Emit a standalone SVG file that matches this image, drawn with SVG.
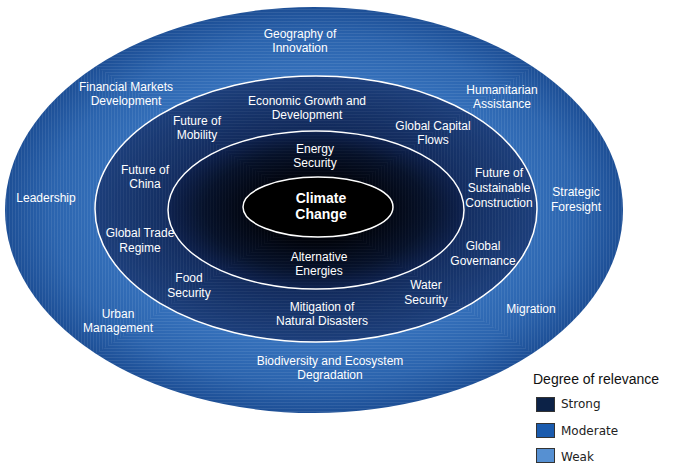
<svg xmlns="http://www.w3.org/2000/svg" width="673" height="467" viewBox="0 0 673 467">
<defs>
<style>
.lbl{font-family:"Liberation Sans",Arial,sans-serif;font-size:12px;fill:#ffffff;text-anchor:middle}
.core{font-family:"Liberation Sans",Arial,sans-serif;font-size:14px;font-weight:bold;fill:#ffffff;text-anchor:middle}
.ring{stroke:#ffffff;stroke-width:1.5}
.leg{font-family:"DejaVu Sans",Verdana,sans-serif;font-size:12px;fill:#222222}
.legt{font-family:"Liberation Sans",Arial,sans-serif;font-size:14px;fill:#111111}
.sw{stroke:#333333;stroke-width:1}
</style>
<radialGradient id="gOuter" cx="0.5" cy="0.5" r="0.5">
<stop offset="0.55" stop-color="#3a77c2"/>
<stop offset="0.85" stop-color="#2b64ae"/>
<stop offset="1" stop-color="#1d4f96"/>
</radialGradient>
<radialGradient id="gMid" cx="0.5" cy="0.5" r="0.5">
<stop offset="0.55" stop-color="#112858"/>
<stop offset="0.85" stop-color="#193870"/>
<stop offset="1" stop-color="#1d3f7b"/>
</radialGradient>
<radialGradient id="gInner" cx="0.5" cy="0.5" r="0.5">
<stop offset="0.4" stop-color="#02050d"/>
<stop offset="0.75" stop-color="#07122a"/>
<stop offset="1" stop-color="#0f2350"/>
</radialGradient>
<pattern id="pH" width="4" height="3" patternUnits="userSpaceOnUse">
<rect x="0" y="0" width="4" height="1" fill="#ffffff" fill-opacity="0.08"/>
</pattern>
<pattern id="pV" width="3" height="4" patternUnits="userSpaceOnUse">
<rect x="0" y="0" width="1" height="4" fill="#ffffff" fill-opacity="0.08"/>
</pattern>
<clipPath id="cOuter"><ellipse cx="314" cy="210" rx="309" ry="203"/></clipPath>
<clipPath id="cMid"><ellipse cx="316" cy="209" rx="221" ry="133"/></clipPath>
<clipPath id="cInner"><ellipse cx="316" cy="210" rx="148" ry="79"/></clipPath>
<g id="texture">
<polygon points="5,7 623,7 316,210 623,413 5,413 316,210" fill="url(#pH)"/>
<polygon points="5,7 316,210 5,413" fill="url(#pV)"/>
<polygon points="623,7 316,210 623,413" fill="url(#pV)"/>
</g>
</defs>
<rect width="673" height="467" fill="#ffffff"/>

<g id="ring-weak">
<ellipse cx="314" cy="210" rx="309" ry="203" fill="url(#gOuter)"/>
<use href="#texture" clip-path="url(#cOuter)"/>
</g>
<g id="ring-moderate">
<ellipse cx="316" cy="209" rx="221" ry="133" fill="url(#gMid)"/>
<use href="#texture" clip-path="url(#cMid)" opacity="0.6"/>
<ellipse cx="316" cy="209" rx="221" ry="133" fill="none" class="ring"/>
</g>
<g id="ring-strong">
<ellipse cx="316" cy="210" rx="148" ry="79" fill="url(#gInner)"/>
<use href="#texture" clip-path="url(#cInner)" opacity="0.35"/>
<ellipse cx="316" cy="210" rx="148" ry="79" fill="none" class="ring"/>
</g>
<g id="climate-change">
<ellipse cx="318" cy="207" rx="75" ry="30" fill="#000000" class="ring"/>
<text class="core" x="321" y="203">Climate</text>
<text class="core" x="321" y="219">Change</text>
</g>

<g id="geography-of-innovation"><text class="lbl" x="300" y="38">Geography of</text><text class="lbl" x="300" y="52">Innovation</text></g>
<g id="financial-markets"><text class="lbl" x="126" y="91">Financial Markets</text><text class="lbl" x="126" y="105">Development</text></g>
<g id="humanitarian-assistance"><text class="lbl" x="502" y="94">Humanitarian</text><text class="lbl" x="502" y="108">Assistance</text></g>
<g id="leadership"><text class="lbl" x="46" y="202">Leadership</text></g>
<g id="strategic-foresight"><text class="lbl" x="576" y="196">Strategic</text><text class="lbl" x="576" y="211">Foresight</text></g>
<g id="urban-management"><text class="lbl" x="118" y="318">Urban</text><text class="lbl" x="118" y="332">Management</text></g>
<g id="migration"><text class="lbl" x="531" y="313">Migration</text></g>
<g id="biodiversity"><text class="lbl" x="330" y="365">Biodiversity and Ecosystem</text><text class="lbl" x="330" y="379">Degradation</text></g>

<g id="economic-growth"><text class="lbl" x="307" y="105">Economic Growth and</text><text class="lbl" x="307" y="119">Development</text></g>
<g id="future-of-mobility"><text class="lbl" x="197" y="125">Future of</text><text class="lbl" x="197" y="139">Mobility</text></g>
<g id="global-capital-flows"><text class="lbl" x="433" y="130">Global Capital</text><text class="lbl" x="433" y="144">Flows</text></g>
<g id="future-of-china"><text class="lbl" x="145" y="174">Future of</text><text class="lbl" x="145" y="188">China</text></g>
<g id="sustainable-construction"><text class="lbl" x="499" y="177">Future of</text><text class="lbl" x="499" y="192">Sustainable</text><text class="lbl" x="499" y="207">Construction</text></g>
<g id="global-trade-regime"><text class="lbl" x="140" y="237">Global Trade</text><text class="lbl" x="140" y="252">Regime</text></g>
<g id="global-governance"><text class="lbl" x="483" y="250">Global</text><text class="lbl" x="483" y="265">Governance</text></g>
<g id="food-security"><text class="lbl" x="189" y="282">Food</text><text class="lbl" x="189" y="297">Security</text></g>
<g id="water-security"><text class="lbl" x="426" y="289">Water</text><text class="lbl" x="426" y="304">Security</text></g>
<g id="mitigation"><text class="lbl" x="322" y="311">Mitigation of</text><text class="lbl" x="322" y="325">Natural Disasters</text></g>

<g id="energy-security"><text class="lbl" x="315" y="153">Energy</text><text class="lbl" x="315" y="167">Security</text></g>
<g id="alternative-energies"><text class="lbl" x="319" y="261">Alternative</text><text class="lbl" x="319" y="275">Energies</text></g>

<g id="legend">
<text class="legt" x="533" y="384">Degree of relevance</text>
<rect class="sw" x="536.5" y="397.5" width="18" height="14" fill="#0c2247"/>
<text class="leg" x="561" y="408">Strong</text>
<rect class="sw" x="536.5" y="423.5" width="18" height="14" fill="#1a5bae"/>
<text class="leg" x="561" y="435">Moderate</text>
<rect class="sw" x="536.5" y="448.5" width="18" height="14" fill="#5690d2"/>
<text class="leg" x="561" y="461">Weak</text>
</g>
</svg>
